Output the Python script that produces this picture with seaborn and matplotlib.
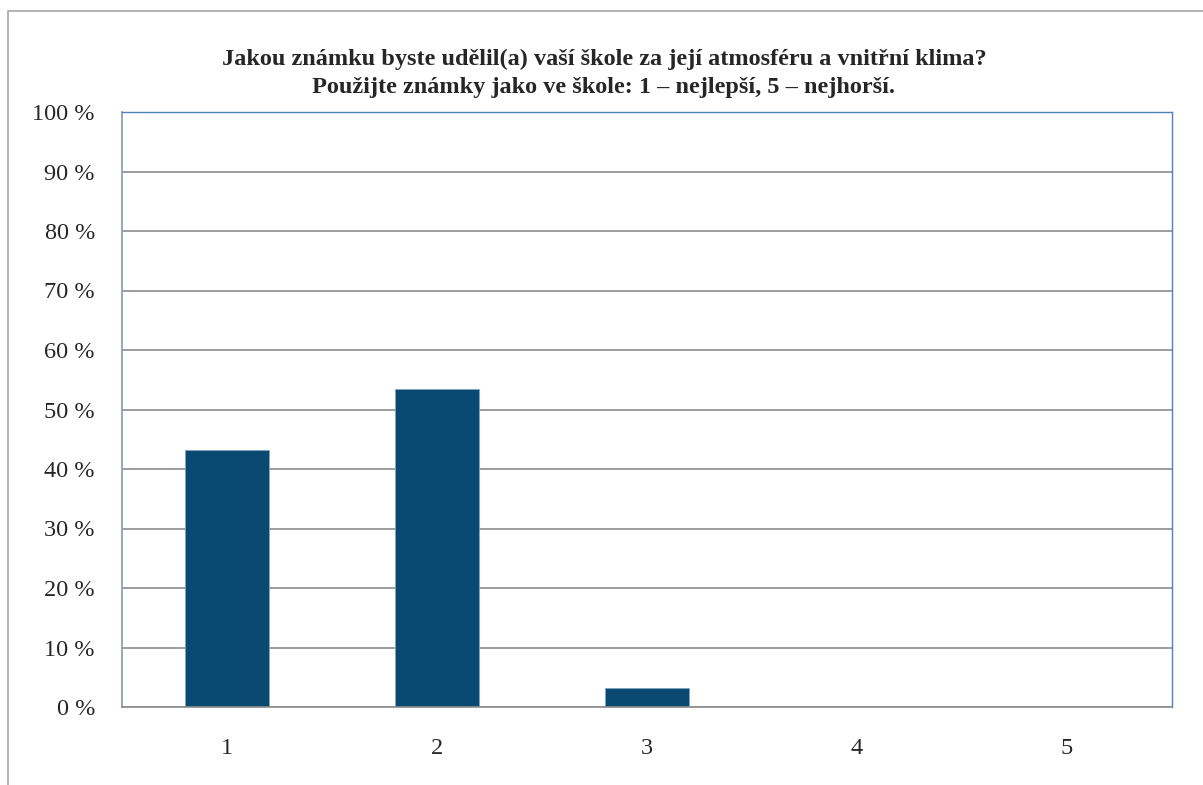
import matplotlib
matplotlib.use("Agg")
import matplotlib.pyplot as plt
import seaborn as sns
import pandas as pd
from matplotlib.patches import Rectangle

categories = ["1", "2", "3", "4", "5"]
values = [43.2, 53.4, 3.2, 0.0, 0.0]
yticks = [0, 10, 20, 30, 40, 50, 60, 70, 80, 90, 100]
ytick_labels = [f"{v} %" for v in yticks]
title_line1 = "Jakou známku byste udělil(a) vaší škole za její atmosféru a vnitřní klima?"
title_line2 = "Použijte známky jako ve škole: 1 – nejlepší, 5 – nejhorší."

sns.set_style("white")
plt.rcParams['font.family'] = ['Liberation Serif', 'DejaVu Serif']

W, H = 1203, 785
fig = plt.figure(figsize=(W / 100, H / 100), dpi=100)
fig.patch.set_facecolor("white")

# outer chart frame
fig.add_artist(Rectangle((8 / W, -0.01), 1.2, 1 - 11 / H + 0.01, transform=fig.transFigure,
                         fill=False, edgecolor="#A6A6A6", linewidth=1.2))

ax = fig.add_axes([122 / W, (H - 707) / H, 1050 / W, 595 / H])
df = pd.DataFrame({"cat": categories, "val": values})
sns.barplot(data=df, x="cat", y="val", color="#0A4A72", saturation=1, width=0.4, ax=ax,
            edgecolor="#7FA6C4", linewidth=0.6)

ax.set_ylim(0, 100)
ax.set_xlim(-0.5, 4.5)
ax.set_yticks(yticks)
ax.set_yticklabels(ytick_labels, fontsize=17.5)
ax.yaxis.grid(True, color="#8C8C8C", linewidth=1.2)
ax.set_axisbelow(True)

ax.set_xticks([i - 0.5 for i in range(len(categories) + 1)])
ax.set_xticklabels([])
ax.set_xticks(range(len(categories)), minor=True)
ax.set_xticklabels(categories, minor=True, fontsize=17.5)
ax.tick_params(axis="x", which="major", length=6.5, width=1, color="#8C8C8C", direction="out")
ax.tick_params(axis="x", which="minor", length=0, pad=22)
ax.tick_params(axis="y", length=6.5, width=1, color="#8C8C8C", direction="out", pad=13)
ax.set_xlabel("")
ax.set_ylabel("")

for s in ["top", "right"]:
    ax.spines[s].set_visible(True)
    ax.spines[s].set_color("#4F81BD")
    ax.spines[s].set_linewidth(1)
ax.spines["left"].set_color("#8497B0")
ax.spines["left"].set_linewidth(1.2)
ax.spines["bottom"].set_color("#8C8C8C")
ax.spines["bottom"].set_linewidth(1.2)

fig.text(604 / W, 1 - 59 / H, title_line1, ha="center", va="center", fontsize=17.5,
         fontweight="bold")
fig.text(604 / W, 1 - 87 / H, title_line2, ha="center", va="center", fontsize=17.5,
         fontweight="bold")

fig.savefig("out.png", dpi=100)
